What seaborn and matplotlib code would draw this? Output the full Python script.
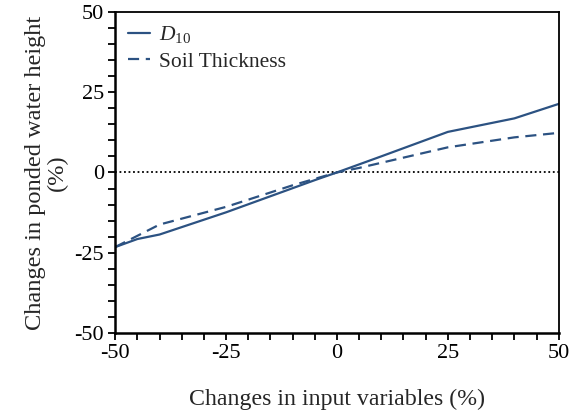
import matplotlib
matplotlib.use("Agg")
import matplotlib.pyplot as plt
import seaborn as sns
import pandas as pd
from matplotlib.ticker import MultipleLocator

# Data
d10_x = [-50, -45, -40, -25, -10, -5, 0, 5, 10, 25, 40, 50]
d10_y = [-23.2, -20.7, -19.3, -12.4, -4.9, -2.4, 0.0, 2.5, 5.0, 12.6, 16.8, 21.3]
soil_x = [-50, -40, -25, -10, -5, 0, 5, 10, 25, 40, 50]
soil_y = [-23.2, -16.2, -10.7, -4.0, -2.0, 0.0, 1.4, 3.0, 7.8, 10.9, 12.3]
labels = ["$\\mathit{D}_{\\mathit{10}}$", "Soil Thickness"]
ticks = [-50, -25, 0, 25, 50]

sns.set_style("ticks")
plt.rcParams["font.family"] = ["Liberation Serif", "DejaVu Serif"]
plt.rcParams["mathtext.fontset"] = "custom"
plt.rcParams["mathtext.rm"] = "Liberation Serif"
plt.rcParams["mathtext.it"] = "Liberation Serif:italic"
plt.rcParams["axes.unicode_minus"] = False

color = "#2C5282"

fig = plt.figure(figsize=(5.76, 4.13), dpi=100)
ax = fig.add_axes([0.2, 0.193, 0.77, 0.779])

df1 = pd.DataFrame({"x": d10_x, "y": d10_y})
df2 = pd.DataFrame({"x": soil_x, "y": soil_y})
sns.lineplot(data=df1, x="x", y="y", ax=ax, color=color, lw=1.6, label=labels[0])
sns.lineplot(data=df2, x="x", y="y", ax=ax, color=color, lw=1.6, label=labels[1],
             linestyle=(0, (5, 3)))
ax.axhline(0, color="black", lw=1.3, linestyle=(0, (1, 1.5)), zorder=1)

ax.set_xlim(-50, 50)
ax.set_ylim(-50, 50)
ax.set_xticks(ticks)
ax.set_yticks(ticks)
ax.set_xticklabels([str(t) for t in ticks])
ax.set_yticklabels([str(t) for t in ticks])
ax.xaxis.set_minor_locator(MultipleLocator(5))
ax.yaxis.set_minor_locator(MultipleLocator(5))
ax.tick_params(which="both", direction="out", length=5, width=1.3, colors="black",
               labelsize=16, pad=3)
for s in ax.spines.values():
    s.set_visible(True)
    s.set_color("black")
    s.set_linewidth(1.3)
ax.spines["left"].set_linewidth(1.8)
ax.spines["bottom"].set_linewidth(1.8)

ax.set_xlabel("Changes in input variables (%)", fontsize=17.2, labelpad=18)
ax.set_ylabel("Changes in ponded water height\n(%)", fontsize=17.6, labelpad=5,
              linespacing=1.0)

leg = ax.legend(loc="upper left", frameon=False, fontsize=15.5, handlelength=1.0,
                handletextpad=0.45, borderaxespad=0.2, labelspacing=0.3,
                borderpad=0.4)

fig.savefig("out.png", dpi=100)
